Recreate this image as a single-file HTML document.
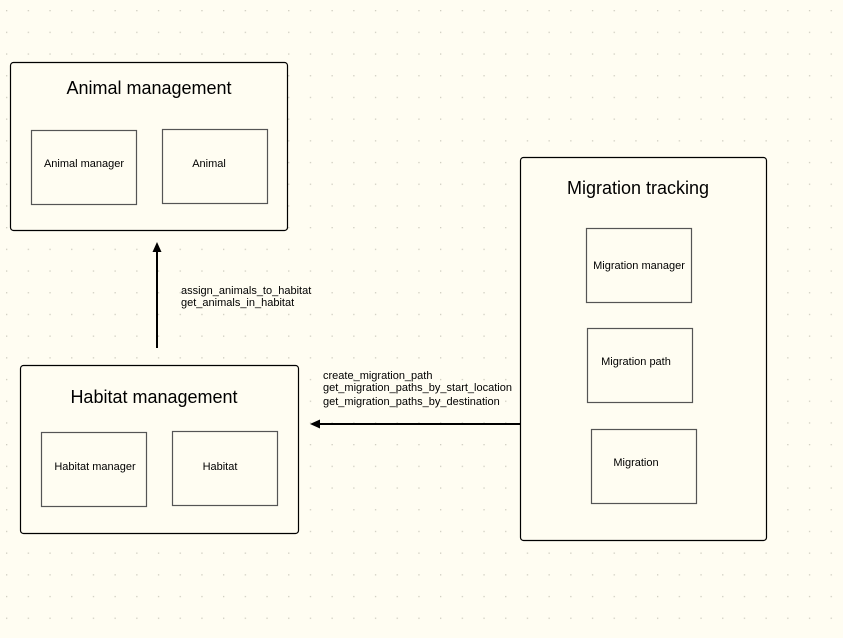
<!DOCTYPE html>
<html><head><style>
html,body{margin:0;padding:0;background:#fffdf2;}
svg{display:block;font-family:"Liberation Sans",Arial,sans-serif;}
</style></head><body>
<svg width="843" height="638" viewBox="0 0 843 638" xmlns="http://www.w3.org/2000/svg">
<defs>
<pattern id="g" x="6" y="10" width="21.7" height="21.7" patternUnits="userSpaceOnUse">
<rect x="0" y="0" width="1.3" height="1.3" fill="#cfcdc0"/>
</pattern>
</defs>
<rect width="843" height="638" fill="#fffdf2"/>
<rect width="843" height="638" fill="url(#g)"/>
<g fill="#fffdf2" stroke="#000" stroke-width="1.2">
<rect x="10.5" y="62.5" width="277" height="168" rx="3"/>
<rect x="20.5" y="365.5" width="278" height="168" rx="3"/>
<rect x="520.5" y="157.5" width="246" height="383" rx="3"/>
</g>
<g fill="#fffdf2" stroke="#555" stroke-width="1.2">
<rect x="31.5" y="130.5" width="105" height="74"/>
<rect x="162.5" y="129.5" width="105" height="74"/>
<rect x="41.5" y="432.5" width="105" height="74"/>
<rect x="172.5" y="431.5" width="105" height="74"/>
<rect x="586.5" y="228.5" width="105" height="74"/>
<rect x="587.5" y="328.5" width="105" height="74"/>
<rect x="591.5" y="429.5" width="105" height="74"/>
</g>
<g fill="#000" font-size="18">
<text x="149" y="94" text-anchor="middle">Animal management</text>
<text x="154" y="403" text-anchor="middle">Habitat management</text>
<text x="638" y="194" text-anchor="middle">Migration tracking</text>
</g>
<g fill="#000" font-size="11" text-anchor="middle">
<text x="84" y="167">Animal manager</text>
<text x="209" y="167">Animal</text>
<text x="95" y="470">Habitat manager</text>
<text x="220" y="470">Habitat</text>
<text x="639" y="269">Migration manager</text>
<text x="636" y="365">Migration path</text>
<text x="636" y="466">Migration</text>
</g>
<g fill="#000" font-size="11">
<text x="181" y="294">assign_animals_to_habitat</text>
<text x="181" y="306">get_animals_in_habitat</text>
<text x="323" y="379">create_migration_path</text>
<text x="323" y="391">get_migration_paths_by_start_location</text>
<text x="323" y="405">get_migration_paths_by_destination</text>
</g>
<line x1="157" y1="348" x2="157" y2="250" stroke="#000" stroke-width="2"/>
<polygon points="157,242 152.5,252 161.5,252" fill="#000"/>
<line x1="520" y1="424" x2="318" y2="424" stroke="#000" stroke-width="2"/>
<polygon points="310,424 320,419.5 320,428.5" fill="#000"/>
</svg>
</body></html>
